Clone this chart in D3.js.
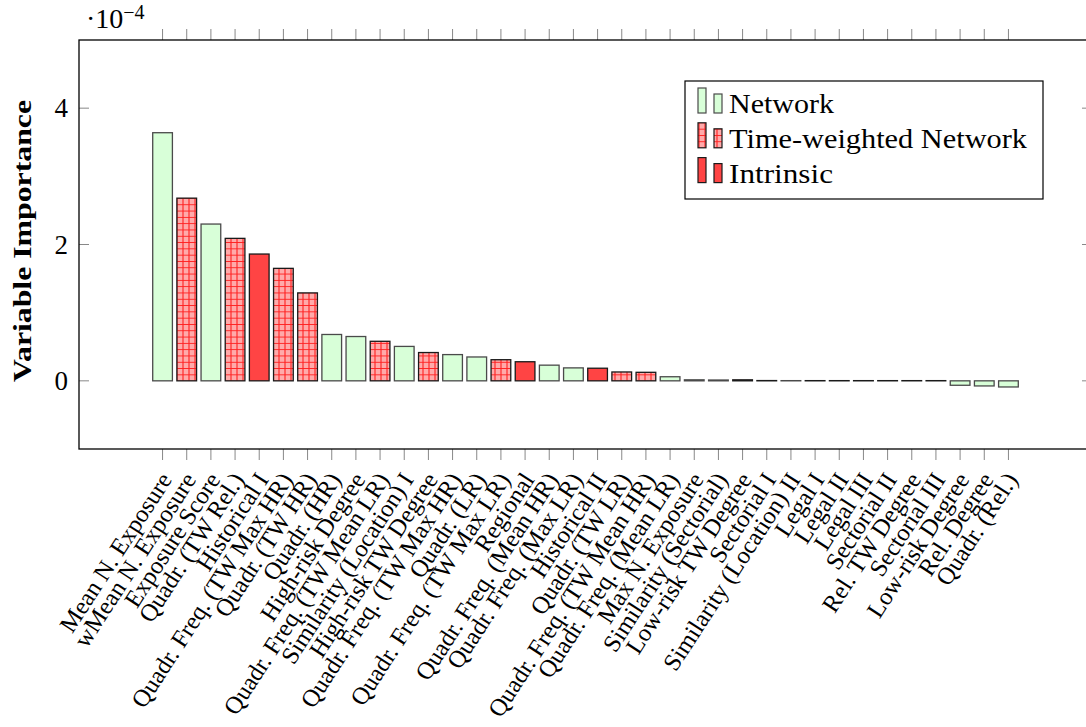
<!DOCTYPE html>
<html lang="en">
<head>
  <meta charset="UTF-8">
  <title>Variable Importance</title>
  <script src="https://d3js.org/d3.v7.min.js"></script>
  <style>
    body { margin: 0; background: #fff; }
    text { font-family: "Liberation Serif", "DejaVu Serif", serif; fill: #000; }
  </style>
</head>
<body>
  <svg width="1086" height="727"></svg>
  <script>
    // Chart data (values in units of 1e-4)
    const categories = [
      "Mean N. Exposure", "wMean N. Exposure", "Exposure Score", "Quadr. (TW Rel.)",
      "Historical I", "Quadr. Freq. (TW Max HR)", "Quadr. (TW HR)", "Quadr. (HR)",
      "High-risk Degree", "Quadr. Freq. (TW Mean LR)", "Similarity (Location) I",
      "High-risk TW Degree", "Quadr. Freq. (TW Max HR)", "Quadr. (LR)",
      "Quadr. Freq. (TW Max LR)", "Regional", "Quadr. Freq. (Mean HR)",
      "Quadr. Freq. (Max LR)", "Historical II", "Quadr. (TW LR)",
      "Quadr. Freq. (TW Mean HR)", "Quadr. Freq. (Mean LR)", "Max N. Exposure",
      "Similarity (Sectorial)", "Low-risk TW Degree", "Sectorial I",
      "Similarity (Location) II", "Legal I", "Legal II", "Legal III", "Sectorial II",
      "Rel. TW Degree", "Sectorial III", "Low-risk Degree", "Rel. Degree", "Quadr. (Rel.)"
    ];
    const groups = [
      "N", "TW", "N", "TW", "I", "TW", "TW", "N", "N", "TW", "N", "TW", "N", "N",
      "TW", "I", "N", "N", "I", "TW", "TW", "N", "N", "N", "TW", "I", "N", "I",
      "I", "I", "I", "TW", "I", "N", "N", "N"
    ];
    const values = [
      3.64, 2.68, 2.30, 2.09, 1.86, 1.65, 1.29, 0.68, 0.65, 0.58, 0.505, 0.415,
      0.385, 0.35, 0.31, 0.28, 0.23, 0.19, 0.185, 0.13, 0.125, 0.06, 0.015, 0.012,
      0.015, 0.004, 0.003, 0.003, 0.003, 0.003, 0.003, 0.003, 0.003, -0.065, -0.075, -0.09
    ];
    const yTicks = [0, 2, 4];
    const legendKeys = ["N", "TW", "I"];
    const legendLabels = ["Network", "Time-weighted Network", "Intrinsic"];

    const svg = d3.select("svg");
    const mLeft = 79, mRight = 1092, mTop = 40, mBottom = 449;

    const x = d3.scaleBand()
      .domain(d3.range(categories.length))
      .range([mLeft, mRight])
      .paddingInner(0.185)
      .paddingOuter(3.05);

    const y = d3.scaleLinear().domain([-1, 5]).range([mBottom, mTop]);

    // grid pattern for time-weighted bars
    const defs = svg.append("defs");
    const pat = defs.append("pattern")
      .attr("id", "grid")
      .attr("patternUnits", "userSpaceOnUse")
      .attr("width", 6).attr("height", 6.3);
    pat.append("rect").attr("width", 6).attr("height", 6.3).attr("fill", "#ffaaaa");
    pat.append("path")
      .attr("d", "M3,0V6.3M0,3.15H6")
      .attr("stroke", "#ff2020").attr("stroke-width", 1.1);

    const fillOf = g => g === "N" ? "#d8ffd8" : g === "TW" ? "url(#grid)" : "#ff4444";
    const strokeOf = g => g === "N" ? "#4a4a4a" : "#1a1a1a";

    // bars
    svg.append("g")
      .selectAll("rect")
      .data(values)
      .join("rect")
        .attr("x", (d, i) => x(i))
        .attr("width", x.bandwidth())
        .attr("y", d => y(Math.max(0, d)))
        .attr("height", d => Math.abs(y(d) - y(0)))
        .attr("fill", (d, i) => fillOf(groups[i]))
        .attr("stroke", (d, i) => strokeOf(groups[i]))
        .attr("stroke-width", 1.3);

    // y ticks (inside, both sides)
    const yt = svg.append("g");
    yTicks.forEach(t => {
      yt.append("line").attr("x1", mLeft).attr("x2", mLeft + 10)
        .attr("y1", y(t)).attr("y2", y(t)).attr("stroke", "#888").attr("stroke-width", 1);
      yt.append("line").attr("x1", mRight - 10).attr("x2", mRight)
        .attr("y1", y(t)).attr("y2", y(t)).attr("stroke", "#888").attr("stroke-width", 1);
      yt.append("text")
        .attr("x", mLeft - 11).attr("y", y(t))
        .attr("dy", "0.34em")
        .attr("text-anchor", "end")
        .attr("font-size", 27)
        .text(t);
    });

    // x ticks (outside, top and bottom)
    const xt = svg.append("g");
    categories.forEach((c, i) => {
      const cx = x(i) + x.bandwidth() / 2;
      xt.append("line").attr("x1", cx).attr("x2", cx)
        .attr("y1", mBottom).attr("y2", mBottom + 11).attr("stroke", "#888");
      xt.append("line").attr("x1", cx).attr("x2", cx)
        .attr("y1", mTop).attr("y2", mTop - 11).attr("stroke", "#888");
      xt.append("text")
        .attr("transform", `translate(${cx + 3},${mBottom + 26}) rotate(-57)`)
        .attr("text-anchor", "end")
        .attr("dy", "0.35em")
        .attr("font-size", 24.5)
        .text(c);
    });

    // frame
    svg.append("rect")
      .attr("x", mLeft).attr("y", mTop)
      .attr("width", mRight - mLeft).attr("height", mBottom - mTop)
      .attr("fill", "none").attr("stroke", "#000").attr("stroke-width", 1.3);

    // exponent label
    const ex = svg.append("text").attr("x", 86).attr("y", 28).attr("font-size", 28);
    ex.append("tspan").text("·10");
    ex.append("tspan").attr("dy", -9).attr("font-size", 20).text("−4");

    // y axis title
    svg.append("text")
      .attr("transform", "translate(31,241) rotate(-90)")
      .attr("text-anchor", "middle")
      .attr("font-size", 26)
      .attr("font-weight", "bold")
      .attr("textLength", 282)
      .attr("lengthAdjust", "spacingAndGlyphs")
      .text("Variable Importance");

    // legend
    const legendWidths = [105, 298, 104];
    const lg = svg.append("g");
    lg.append("rect")
      .attr("x", 685).attr("y", 81).attr("width", 358).attr("height", 118)
      .attr("fill", "#fff").attr("stroke", "#000").attr("stroke-width", 1.2);
    legendKeys.forEach((k, i) => {
      const base = 113 + i * 34.8;
      lg.append("rect").attr("x", 698).attr("y", base - 25).attr("width", 8).attr("height", 25)
        .attr("fill", fillOf(k)).attr("stroke", strokeOf(k)).attr("stroke-width", 1.2);
      lg.append("rect").attr("x", 714).attr("y", base - 19).attr("width", 8).attr("height", 19)
        .attr("fill", fillOf(k)).attr("stroke", strokeOf(k)).attr("stroke-width", 1.2);
      lg.append("text").attr("x", 729).attr("y", base)
        .attr("font-size", 28)
        .attr("textLength", legendWidths[i])
        .attr("lengthAdjust", "spacingAndGlyphs")
        .text(legendLabels[i]);
    });
  </script>
</body>
</html>
